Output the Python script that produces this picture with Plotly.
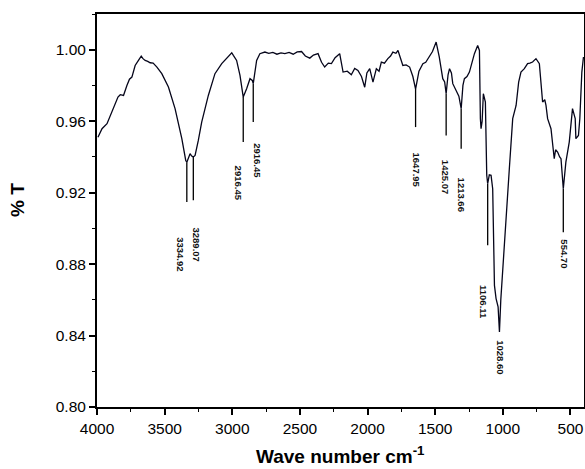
import plotly.graph_objects as go

# Spectrum (wavenumber in cm-1, transmittance)
wavenumber = [3993, 3963, 3926, 3902, 3865, 3845, 3828, 3804, 3779, 3760, 3742, 3718, 3690, 3673,
              3660, 3644, 3625, 3607, 3585, 3557, 3521, 3472, 3423, 3373, 3344, 3336, 3312, 3300,
              3288, 3275, 3251, 3226, 3177, 3128, 3078, 3029, 3004, 2992, 2968, 2943, 2919, 2894,
              2869, 2852, 2845, 2820, 2796, 2759, 2730, 2700, 2670, 2640, 2611, 2580, 2550, 2520,
              2488, 2460, 2427, 2400, 2366, 2340, 2317, 2290, 2267, 2240, 2206, 2181, 2150, 2120,
              2095, 2071, 2045, 2021, 2005, 1984, 1960, 1935, 1915, 1898, 1875, 1850, 1830, 1813,
              1790, 1775, 1760, 1739, 1715, 1689, 1665, 1645, 1620, 1591, 1570, 1554, 1520, 1493,
              1470, 1444, 1430, 1419, 1405, 1394, 1380, 1370, 1345, 1325, 1308, 1295, 1284, 1265,
              1247, 1230, 1210, 1186, 1173, 1166, 1161, 1153, 1144, 1129, 1119, 1112, 1100, 1087,
              1075, 1062, 1050, 1035, 1025, 1015, 1001, 976, 952, 927, 902, 883, 866, 841, 817,
              800, 780, 755, 730, 706, 690, 681, 669, 644, 620, 610, 595, 580, 570, 553, 534, 509,
              485, 465, 460, 441, 431, 416, 404]
transmittance = [0.951, 0.9558, 0.9586, 0.9632, 0.9707, 0.9735, 0.9748, 0.9744, 0.980, 0.9835, 0.9847,
                 0.9912, 0.9945, 0.9964, 0.9950, 0.994, 0.9935, 0.9927, 0.9925, 0.9903, 0.9866, 0.9791,
                 0.967, 0.9502, 0.938, 0.937, 0.9418, 0.9405, 0.940, 0.9408, 0.9492, 0.9595, 0.9744,
                 0.9866, 0.9922, 0.9964, 0.9983, 0.9968, 0.994, 0.9856, 0.9735, 0.9782, 0.9838, 0.9828,
                 0.981, 0.994, 0.9978, 0.9987, 0.9980, 0.9985, 0.9975, 0.9982, 0.9978, 0.9985, 0.9975,
                 0.9988, 0.999, 0.9965, 0.9953, 0.9970, 0.9978, 0.9930, 0.9903, 0.9925, 0.9922, 0.9955,
                 0.9978, 0.9875, 0.9880, 0.986, 0.9895, 0.9884, 0.9850, 0.979, 0.9870, 0.9894, 0.9819,
                 0.9894, 0.9880, 0.9931, 0.9925, 0.995, 0.9965, 0.9987, 0.9980, 0.9996, 0.9960, 0.9912,
                 0.9915, 0.9903, 0.9850, 0.978, 0.9880, 0.9922, 0.9930, 0.995, 0.9990, 1.0043, 0.9960,
                 0.9838, 0.9820, 0.9754, 0.9860, 0.9894, 0.9870, 0.981, 0.9772, 0.9740, 0.967, 0.9800,
                 0.9838, 0.9850, 0.9875, 0.9930, 0.9978, 1.0024, 0.9996, 0.9614, 0.9558, 0.9600, 0.9754,
                 0.9707, 0.9297, 0.925, 0.9300, 0.9297, 0.9222, 0.8681, 0.8607, 0.8560, 0.8420, 0.8600,
                 0.8775, 0.9035, 0.9334, 0.9614, 0.9688, 0.9819, 0.9875, 0.9894, 0.9922, 0.9925, 0.9931,
                 0.995, 0.9922, 0.9707, 0.9720, 0.9688, 0.9614, 0.9558, 0.939, 0.9440, 0.9427, 0.9400,
                 0.939, 0.9222, 0.9371, 0.9483, 0.967, 0.9614, 0.9502, 0.952, 0.9614, 0.9875, 0.9959]

# Peak marker lines: position, top (curve) and bottom of the drop line
marker_x = [3336, 3288, 2919, 2845, 1645, 1419, 1308, 1112, 553]
marker_top = [0.937, 0.940, 0.9735, 0.981, 0.978, 0.9754, 0.967, 0.925, 0.9222]
marker_bottom = [0.9147, 0.9157, 0.9483, 0.9595, 0.9567, 0.952, 0.9446, 0.8905, 0.8978]

# Peak labels (text as printed in the chart)
label_text = ["3334.92", "3289.07", "2916.45", "2916.45", "1647.95", "1425.07", "1213.66",
              "1106.11", "1028.60", "554.70"]
label_x = [3378, 3262, 2956, 2820, 1640, 1424, 1304, 1144, 1020, 546]
label_y = [0.8961, 0.9017, 0.9364, 0.9487, 0.9437, 0.9392, 0.9297, 0.8692, 0.8384, 0.8951]

x_ticks = [4000, 3500, 3000, 2500, 2000, 1500, 1000, 500]
y_ticks = [0.80, 0.84, 0.88, 0.92, 0.96, 1.00]

fig = go.Figure()

for mx, mt, mb in zip(marker_x, marker_top, marker_bottom):
    fig.add_trace(go.Scatter(x=[mx, mx], y=[mt, mb], mode="lines",
                             line=dict(color="black", width=1.3),
                             showlegend=False, hoverinfo="skip"))

fig.add_trace(go.Scatter(x=wavenumber, y=transmittance, mode="lines",
                         line=dict(color="#05051a", width=1.3), showlegend=False))

for t, lx, ly in zip(label_text, label_x, label_y):
    fig.add_annotation(x=lx, y=ly, text="<b>" + t + "</b>", showarrow=False, textangle=90,
                       xanchor="center", yanchor="top",
                       font=dict(family="Liberation Sans", size=9.5, color="#111111"))

# Axis titles
fig.add_annotation(xref="paper", yref="paper", x=0.499, y=-0.122,
                   text="<b>Wave number cm<sup>-1</sup></b>", showarrow=False,
                   xanchor="center", yanchor="middle",
                   font=dict(family="Liberation Sans", size=19, color="black"))
fig.add_annotation(xref="paper", yref="paper", x=-0.162, y=0.527,
                   text="<b>% T</b>", showarrow=False, textangle=-90,
                   xanchor="center", yanchor="middle",
                   font=dict(family="Liberation Sans", size=19, color="black"))

axis_common = dict(showline=True, linecolor="black", linewidth=2, mirror=True,
                   ticks="outside", ticklen=6, tickwidth=1.5, tickcolor="black",
                   showgrid=False, zeroline=False, automargin=False,
                   tickfont=dict(family="Liberation Sans", size=15.5, color="black"))

fig.update_xaxes(range=[4000, 400], tickvals=x_ticks,
                 minor=dict(dtick=250, ticks="outside", ticklen=3, tickwidth=1.2, tickcolor="black"),
                 **axis_common)
fig.update_yaxes(range=[0.80, 1.02], tickvals=y_ticks, tickformat=".2f",
                 minor=dict(tickvals=[0.82, 0.86, 0.90, 0.94, 0.98, 1.02], ticks="outside",
                            ticklen=3, tickwidth=1.2, tickcolor="black"),
                 **axis_common)

fig.update_layout(width=585, height=469, margin=dict(l=97, r=1, t=14, b=62),
                  plot_bgcolor="white", paper_bgcolor="white")

# remove the default page margin so the figure fills the window exactly
fig.write_html("out.html", config={"displayModeBar": False},
               post_script="document.body.style.margin='0';document.body.style.overflow='hidden';")
